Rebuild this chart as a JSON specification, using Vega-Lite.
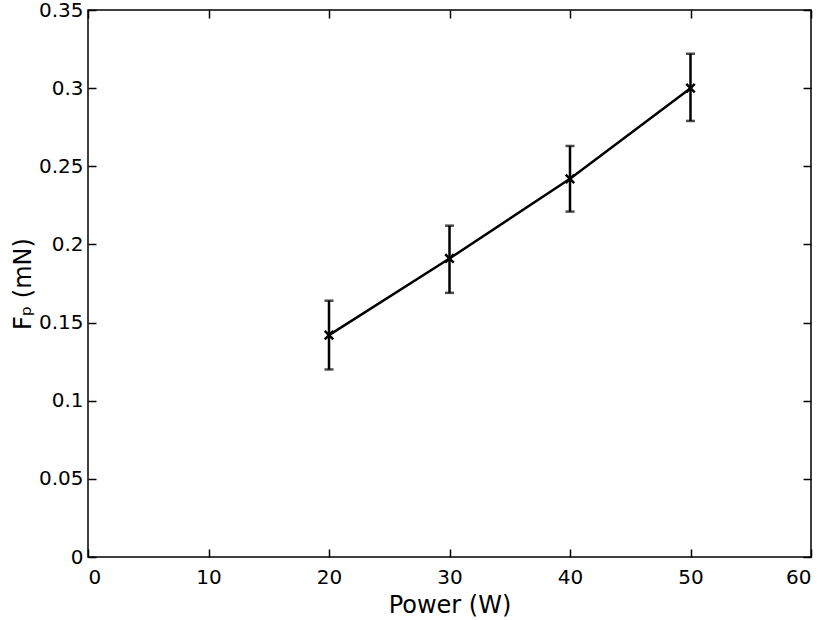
{
  "$schema": "https://vega.github.io/schema/vega-lite/v6.json",
  "width": 723,
  "height": 547,
  "autosize": "none",
  "padding": {"left": 88, "top": 10, "right": 17, "bottom": 63},
  "background": "white",
  "config": {
    "font": "DejaVu Sans",
    "view": {"stroke": "black", "strokeWidth": 1.5},
    "axis": {
      "domain": false,
      "grid": false,
      "ticks": true,
      "tickColor": "black",
      "tickSize": -8,
      "tickWidth": 1.5,
      "labelFont": "DejaVu Sans",
      "labelFontSize": 20,
      "labelColor": "black",
      "titleFont": "DejaVu Sans",
      "titleFontSize": 24,
      "titleFontWeight": "normal",
      "titleColor": "black"
    }
  },
  "data": {
    "values": [
      {"power": 20, "fp": 0.142, "lo": 0.120, "hi": 0.164},
      {"power": 30, "fp": 0.191, "lo": 0.169, "hi": 0.212},
      {"power": 40, "fp": 0.242, "lo": 0.221, "hi": 0.263},
      {"power": 50, "fp": 0.300, "lo": 0.279, "hi": 0.322}
    ]
  },
  "layer": [
    {
      "mark": {"type": "rule", "color": "black", "strokeWidth": 2.5},
      "encoding": {
        "x": {
          "field": "power", "type": "quantitative",
          "scale": {"domain": [0, 60], "nice": false},
          "axis": {"orient": "bottom", "values": [0, 10, 20, 30, 40, 50, 60], "title": "Power (W)", "labelPadding": 18, "titlePadding": 6}
        },
        "y": {
          "field": "lo", "type": "quantitative",
          "scale": {"domain": [0, 0.35], "nice": false, "zero": false},
          "axis": {"orient": "left", "values": [0, 0.05, 0.1, 0.15, 0.2, 0.25, 0.3, 0.35], "format": "~g", "title": "Fₚ (mN)", "labelPadding": 13, "titlePadding": 3}
        },
        "y2": {"field": "hi"}
      }
    },
    {
      "mark": {"type": "tick", "color": "black", "orient": "horizontal", "size": 9, "thickness": 2.5},
      "encoding": {
        "x": {"field": "power", "type": "quantitative", "axis": null},
        "y": {"field": "lo", "type": "quantitative", "axis": null}
      }
    },
    {
      "mark": {"type": "tick", "color": "black", "orient": "horizontal", "size": 9, "thickness": 2.5},
      "encoding": {
        "x": {"field": "power", "type": "quantitative", "axis": null},
        "y": {"field": "hi", "type": "quantitative", "axis": null}
      }
    },
    {
      "mark": {"type": "line", "color": "black", "strokeWidth": 2.5},
      "encoding": {
        "x": {"field": "power", "type": "quantitative", "axis": null},
        "y": {"field": "fp", "type": "quantitative", "axis": null}
      }
    },
    {
      "mark": {"type": "point", "shape": "M-1,-1L1,1M-1,1L1,-1", "filled": false, "color": "black", "strokeWidth": 2.5, "size": 72, "opacity": 1},
      "encoding": {
        "x": {
          "field": "power", "type": "quantitative",
          "axis": {"orient": "top", "values": [0, 10, 20, 30, 40, 50, 60], "labels": false, "title": null}
        },
        "y": {
          "field": "fp", "type": "quantitative",
          "axis": {"orient": "right", "values": [0, 0.05, 0.1, 0.15, 0.2, 0.25, 0.3, 0.35], "labels": false, "title": null}
        }
      }
    }
  ],
  "resolve": {"axis": {"x": "independent", "y": "independent"}}
}
